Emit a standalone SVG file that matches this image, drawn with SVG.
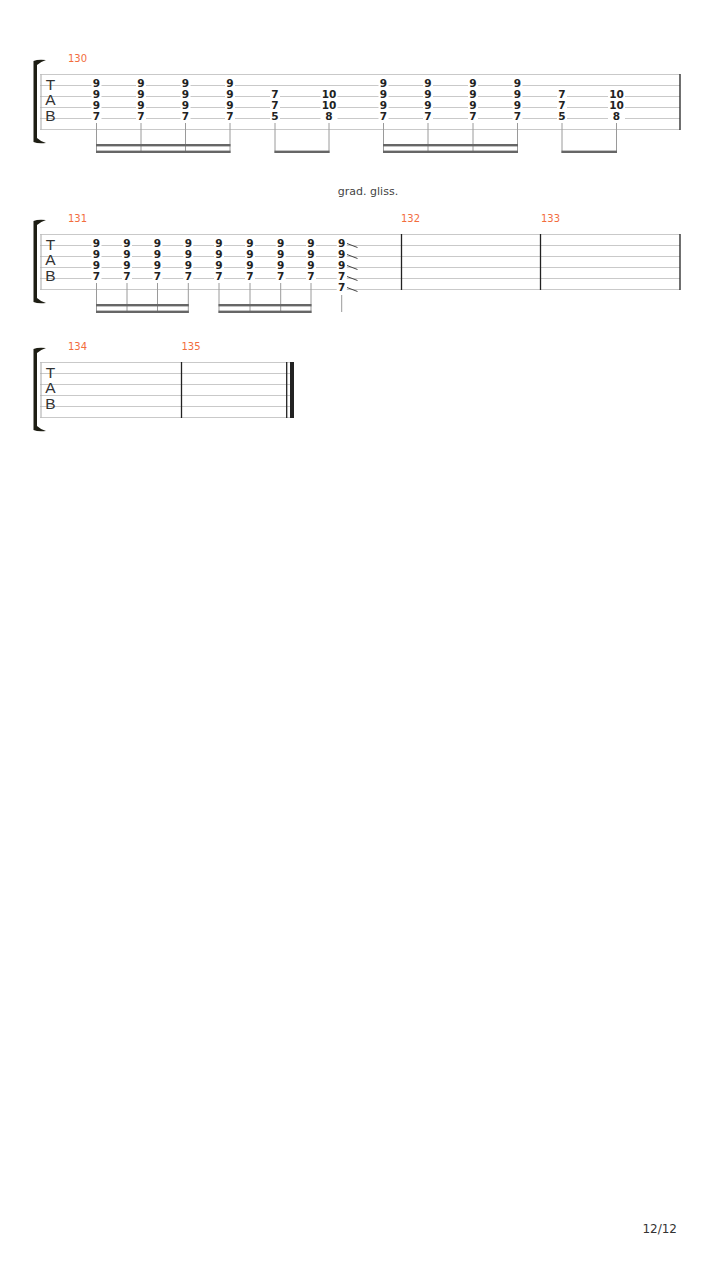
<svg xmlns="http://www.w3.org/2000/svg" width="720" height="1280" viewBox="0 0 720 1280">
<style>
.staff{stroke:#c9c9c9;stroke-width:1;fill:none}
.lbar{stroke:#a8a8a8;stroke-width:1}
.bar{stroke:#222;stroke-width:1.3}
.stem{stroke:#9a9a9a;stroke-width:1}
.beam{fill:#666}
.bg{fill:#fff}
.n{font-family:"DejaVu Sans",sans-serif;font-weight:bold;font-size:10.5px;fill:#222;text-anchor:middle}
.mn{font-family:"DejaVu Sans",sans-serif;font-size:10px;fill:#f26d3d}
.tab{font-family:"Liberation Sans",sans-serif;font-size:15.5px;fill:#333;text-anchor:middle}
.brk{fill:#1e1e14}
.gl{stroke:#444;stroke-width:1}
.txt{font-family:"DejaVu Sans",sans-serif;font-size:11px;fill:#444}
</style>
<rect width="720" height="1280" fill="#fff"/>

<!-- SYSTEM 1 -->
<g id="system1">
 <path class="brk" d="M33.5,61 Q38,59 46,60 Q40,62 37,65 L37,138 Q40,141 46,143 Q38,144 33.5,142 Z"/>
 <g class="staff">
  <line x1="40" y1="74.5" x2="680" y2="74.5"/>
  <line x1="40" y1="85.5" x2="680" y2="85.5"/>
  <line x1="40" y1="96.5" x2="680" y2="96.5"/>
  <line x1="40" y1="107.5" x2="680" y2="107.5"/>
  <line x1="40" y1="118.5" x2="680" y2="118.5"/>
  <line x1="40" y1="129.5" x2="680" y2="129.5"/>
 </g>
 <line class="lbar" x1="41" y1="74.5" x2="41" y2="129.5"/>
 <line class="bar" x1="680" y1="74" x2="680" y2="130"/>
 <text class="tab" x="50.5" y="89.5">T</text>
 <text class="tab" x="50.5" y="105">A</text>
 <text class="tab" x="50.5" y="120.7">B</text>
 <text class="mn" x="68" y="62">130</text>
 <g id="m130-notes">
  <g class="bg">
   <rect x="91.5" y="77.5" width="10" height="43"/>
   <rect x="136" y="77.5" width="10" height="43"/>
   <rect x="180.5" y="77.5" width="10" height="43"/>
   <rect x="225" y="77.5" width="10" height="43"/>
   <rect x="270" y="88.5" width="10" height="32"/>
   <rect x="320.5" y="88.5" width="17" height="32"/>
   <rect x="378.5" y="77.5" width="10" height="43"/>
   <rect x="423" y="77.5" width="10" height="43"/>
   <rect x="468" y="77.5" width="10" height="43"/>
   <rect x="512.5" y="77.5" width="10" height="43"/>
   <rect x="557" y="88.5" width="10" height="32"/>
   <rect x="608" y="88.5" width="17" height="32"/>
  </g>
  <text class="n" x="96.5" y="86.5">9</text><text class="n" x="96.5" y="97.5">9</text><text class="n" x="96.5" y="108.5">9</text><text class="n" x="96.5" y="119.5">7</text>
  <text class="n" x="141" y="86.5">9</text><text class="n" x="141" y="97.5">9</text><text class="n" x="141" y="108.5">9</text><text class="n" x="141" y="119.5">7</text>
  <text class="n" x="185.5" y="86.5">9</text><text class="n" x="185.5" y="97.5">9</text><text class="n" x="185.5" y="108.5">9</text><text class="n" x="185.5" y="119.5">7</text>
  <text class="n" x="230" y="86.5">9</text><text class="n" x="230" y="97.5">9</text><text class="n" x="230" y="108.5">9</text><text class="n" x="230" y="119.5">7</text>
  <text class="n" x="275" y="97.5">7</text><text class="n" x="275" y="108.5">7</text><text class="n" x="275" y="119.5">5</text>
  <text class="n" x="329" y="97.5">10</text><text class="n" x="329" y="108.5">10</text><text class="n" x="329" y="119.5">8</text>
  <text class="n" x="383.5" y="86.5">9</text><text class="n" x="383.5" y="97.5">9</text><text class="n" x="383.5" y="108.5">9</text><text class="n" x="383.5" y="119.5">7</text>
  <text class="n" x="428" y="86.5">9</text><text class="n" x="428" y="97.5">9</text><text class="n" x="428" y="108.5">9</text><text class="n" x="428" y="119.5">7</text>
  <text class="n" x="473" y="86.5">9</text><text class="n" x="473" y="97.5">9</text><text class="n" x="473" y="108.5">9</text><text class="n" x="473" y="119.5">7</text>
  <text class="n" x="517.5" y="86.5">9</text><text class="n" x="517.5" y="97.5">9</text><text class="n" x="517.5" y="108.5">9</text><text class="n" x="517.5" y="119.5">7</text>
  <text class="n" x="562" y="97.5">7</text><text class="n" x="562" y="108.5">7</text><text class="n" x="562" y="119.5">5</text>
  <text class="n" x="616.5" y="97.5">10</text><text class="n" x="616.5" y="108.5">10</text><text class="n" x="616.5" y="119.5">8</text>
 </g>
 <g id="m130-rhythm">
  <g class="stem">
   <line x1="96.5" y1="123" x2="96.5" y2="153"/>
   <line x1="141" y1="123" x2="141" y2="153"/>
   <line x1="185.5" y1="123" x2="185.5" y2="153"/>
   <line x1="230" y1="123" x2="230" y2="153"/>
   <line x1="275" y1="123" x2="275" y2="153"/>
   <line x1="329" y1="123" x2="329" y2="153"/>
   <line x1="383.5" y1="123" x2="383.5" y2="153"/>
   <line x1="428" y1="123" x2="428" y2="153"/>
   <line x1="473" y1="123" x2="473" y2="153"/>
   <line x1="517.5" y1="123" x2="517.5" y2="153"/>
   <line x1="562" y1="123" x2="562" y2="153"/>
   <line x1="616.5" y1="123" x2="616.5" y2="153"/>
  </g>
  <rect class="beam" x="96" y="144" width="134.5" height="2.4"/>
  <rect class="beam" x="96" y="150.6" width="134.5" height="2.4"/>
  <rect class="beam" x="274.5" y="150.6" width="55" height="2.4"/>
  <rect class="beam" x="383" y="144" width="135" height="2.4"/>
  <rect class="beam" x="383" y="150.6" width="135" height="2.4"/>
  <rect class="beam" x="561.5" y="150.6" width="55.5" height="2.4"/>
 </g>
</g>

<!-- SYSTEM 2 -->
<g id="system2">
 <text class="txt" x="368" y="195" text-anchor="middle">grad. gliss.</text>
 <path class="brk" d="M33.5,221 Q38,219 46,220 Q40,222 37,225 L37,298 Q40,301 46,303 Q38,304 33.5,302 Z"/>
 <g class="staff">
  <line x1="40" y1="234.5" x2="680" y2="234.5"/>
  <line x1="40" y1="245.5" x2="680" y2="245.5"/>
  <line x1="40" y1="256.5" x2="680" y2="256.5"/>
  <line x1="40" y1="267.5" x2="680" y2="267.5"/>
  <line x1="40" y1="278.5" x2="680" y2="278.5"/>
  <line x1="40" y1="289.5" x2="680" y2="289.5"/>
 </g>
 <line class="lbar" x1="41" y1="234.5" x2="41" y2="289.5"/>
 <line class="bar" x1="401.5" y1="234" x2="401.5" y2="290"/>
 <line class="bar" x1="540.5" y1="234" x2="540.5" y2="290"/>
 <line class="bar" x1="680" y1="234" x2="680" y2="290"/>
 <text class="tab" x="50.5" y="249.5">T</text>
 <text class="tab" x="50.5" y="265">A</text>
 <text class="tab" x="50.5" y="280.7">B</text>
 <text class="mn" x="68" y="222">131</text>
 <text class="mn" x="401" y="222">132</text>
 <text class="mn" x="541" y="222">133</text>
 <g id="m131-notes">
  <g class="bg">
   <rect x="91.5" y="237.5" width="10" height="43"/>
   <rect x="122" y="237.5" width="10" height="43"/>
   <rect x="152.5" y="237.5" width="10" height="43"/>
   <rect x="183.3" y="237.5" width="10" height="43"/>
   <rect x="214" y="237.5" width="10" height="43"/>
   <rect x="245" y="237.5" width="10" height="43"/>
   <rect x="275.7" y="237.5" width="10" height="43"/>
   <rect x="306" y="237.5" width="10" height="43"/>
   <rect x="336.7" y="237.5" width="10" height="54"/>
  </g>
  <text class="n" x="96.5" y="246.5">9</text><text class="n" x="96.5" y="257.5">9</text><text class="n" x="96.5" y="268.5">9</text><text class="n" x="96.5" y="279.5">7</text>
  <text class="n" x="127" y="246.5">9</text><text class="n" x="127" y="257.5">9</text><text class="n" x="127" y="268.5">9</text><text class="n" x="127" y="279.5">7</text>
  <text class="n" x="157.5" y="246.5">9</text><text class="n" x="157.5" y="257.5">9</text><text class="n" x="157.5" y="268.5">9</text><text class="n" x="157.5" y="279.5">7</text>
  <text class="n" x="188.3" y="246.5">9</text><text class="n" x="188.3" y="257.5">9</text><text class="n" x="188.3" y="268.5">9</text><text class="n" x="188.3" y="279.5">7</text>
  <text class="n" x="219" y="246.5">9</text><text class="n" x="219" y="257.5">9</text><text class="n" x="219" y="268.5">9</text><text class="n" x="219" y="279.5">7</text>
  <text class="n" x="250" y="246.5">9</text><text class="n" x="250" y="257.5">9</text><text class="n" x="250" y="268.5">9</text><text class="n" x="250" y="279.5">7</text>
  <text class="n" x="280.7" y="246.5">9</text><text class="n" x="280.7" y="257.5">9</text><text class="n" x="280.7" y="268.5">9</text><text class="n" x="280.7" y="279.5">7</text>
  <text class="n" x="311" y="246.5">9</text><text class="n" x="311" y="257.5">9</text><text class="n" x="311" y="268.5">9</text><text class="n" x="311" y="279.5">7</text>
  <text class="n" x="341.7" y="246.5">9</text><text class="n" x="341.7" y="257.5">9</text><text class="n" x="341.7" y="268.5">9</text><text class="n" x="341.7" y="279.5">7</text><text class="n" x="341.7" y="290.5">7</text>
  <g class="gl">
   <line x1="347" y1="243.5" x2="357.5" y2="247.5"/>
   <line x1="347" y1="254.5" x2="357.5" y2="258.5"/>
   <line x1="347" y1="265.5" x2="357.5" y2="269.5"/>
   <line x1="347" y1="276.5" x2="357.5" y2="280.5"/>
   <line x1="347" y1="287.5" x2="357.5" y2="291.5"/>
  </g>
 </g>
 <g id="m131-rhythm">
  <g class="stem">
   <line x1="96.5" y1="283" x2="96.5" y2="313"/>
   <line x1="127" y1="283" x2="127" y2="313"/>
   <line x1="157.5" y1="283" x2="157.5" y2="313"/>
   <line x1="188.3" y1="283" x2="188.3" y2="313"/>
   <line x1="219" y1="283" x2="219" y2="313"/>
   <line x1="250" y1="283" x2="250" y2="313"/>
   <line x1="280.7" y1="283" x2="280.7" y2="313"/>
   <line x1="311" y1="283" x2="311" y2="313"/>
   <line x1="341.7" y1="295" x2="341.7" y2="312"/>
  </g>
  <rect class="beam" x="96" y="304" width="92.8" height="2.4"/>
  <rect class="beam" x="96" y="310.6" width="92.8" height="2.4"/>
  <rect class="beam" x="218.5" y="304" width="93" height="2.4"/>
  <rect class="beam" x="218.5" y="310.6" width="93" height="2.4"/>
 </g>
</g>

<!-- SYSTEM 3 -->
<g id="system3">
 <path class="brk" d="M33.5,349 Q38,347 46,348 Q40,350 37,353 L37,426 Q40,429 46,431 Q38,432 33.5,430 Z"/>
 <g class="staff">
  <line x1="40" y1="362.5" x2="293" y2="362.5"/>
  <line x1="40" y1="373.5" x2="293" y2="373.5"/>
  <line x1="40" y1="384.5" x2="293" y2="384.5"/>
  <line x1="40" y1="395.5" x2="293" y2="395.5"/>
  <line x1="40" y1="406.5" x2="293" y2="406.5"/>
  <line x1="40" y1="417.5" x2="293" y2="417.5"/>
 </g>
 <line class="lbar" x1="41" y1="362.5" x2="41" y2="417.5"/>
 <line class="bar" x1="181.5" y1="362" x2="181.5" y2="418"/>
 <line class="bar" x1="286.7" y1="362" x2="286.7" y2="418"/>
 <rect x="290" y="362" width="4" height="56" fill="#222"/>
 <text class="tab" x="50.5" y="377.5">T</text>
 <text class="tab" x="50.5" y="393">A</text>
 <text class="tab" x="50.5" y="408.7">B</text>
 <text class="mn" x="68" y="350">134</text>
 <text class="mn" x="181.5" y="350">135</text>
</g>

<text x="677" y="1233" text-anchor="end" font-family="DejaVu Sans, sans-serif" font-size="12" fill="#333">12/12</text>
</svg>
